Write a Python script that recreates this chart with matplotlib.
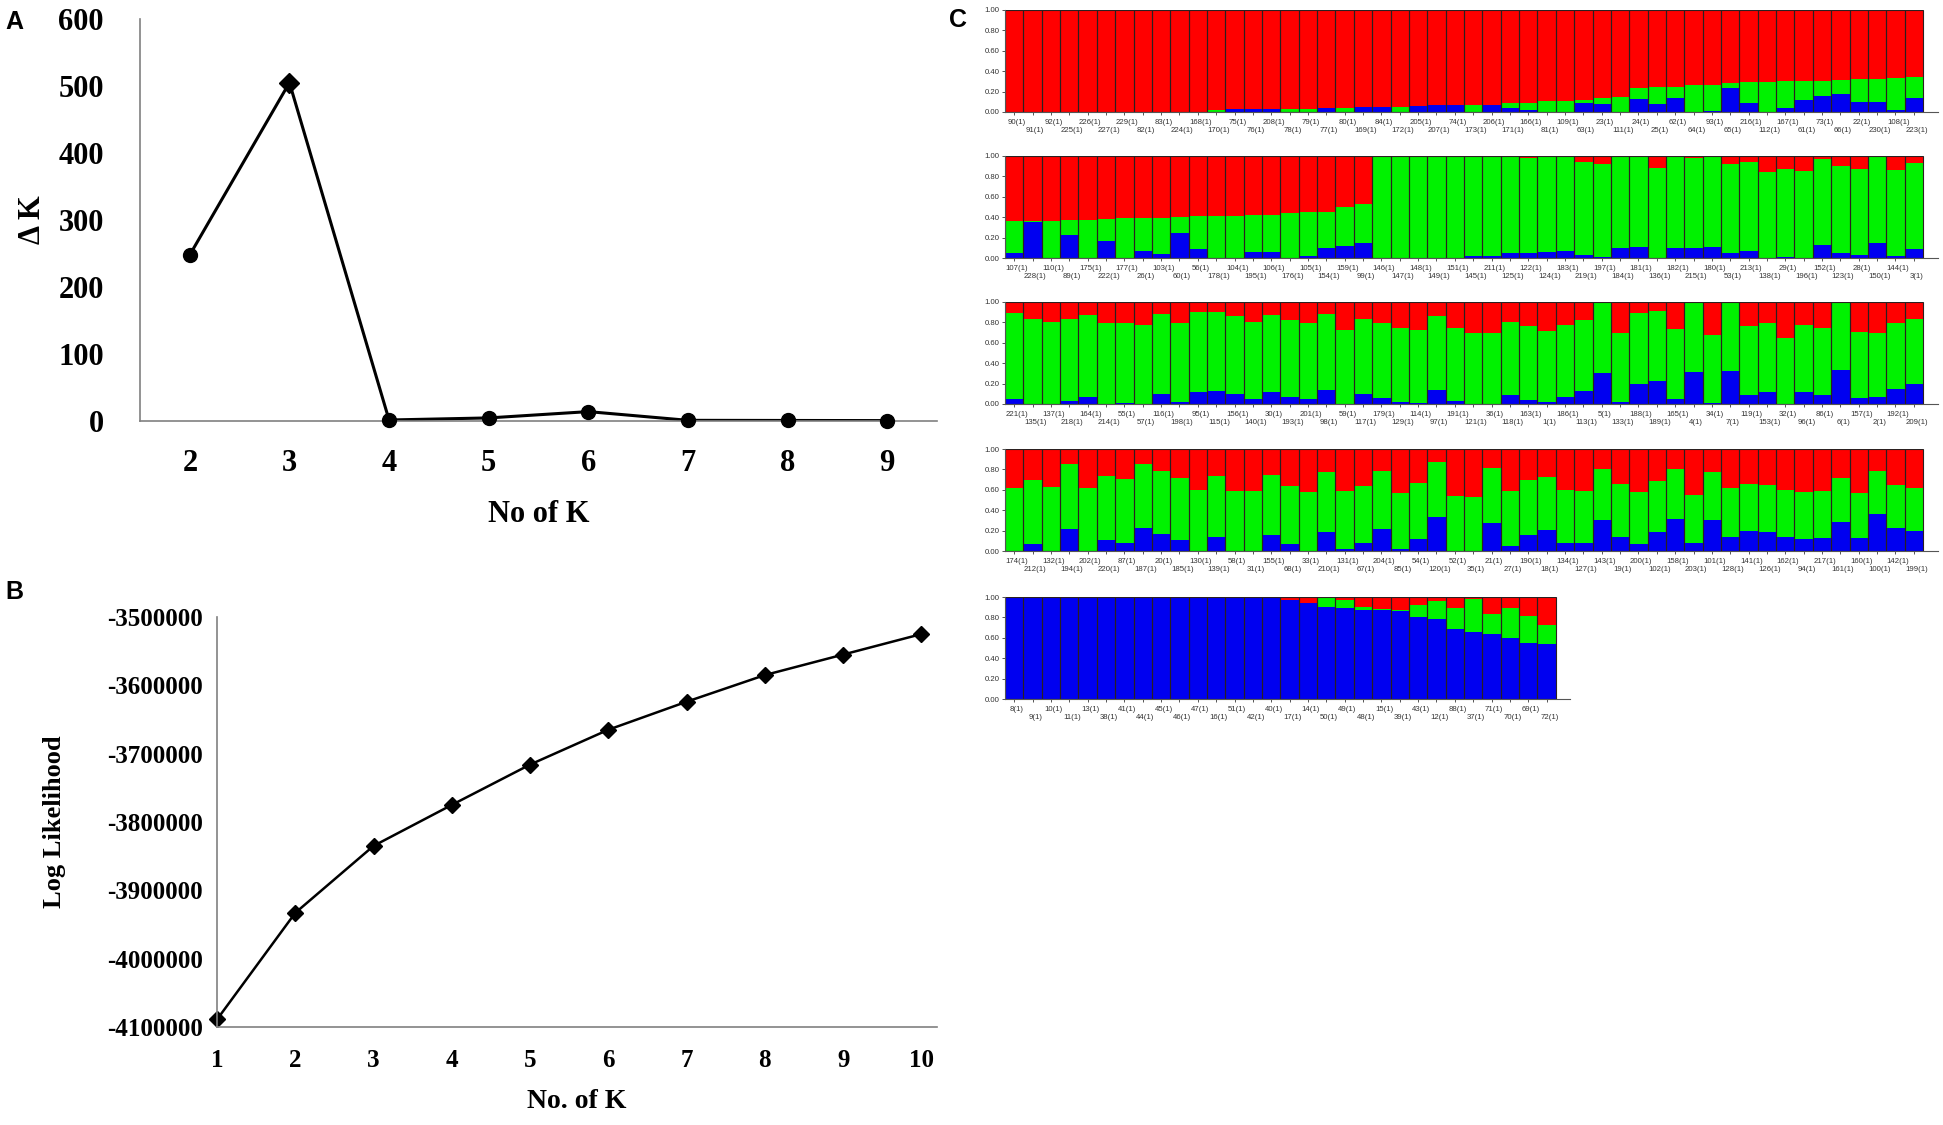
import numpy as np
import matplotlib
matplotlib.use("Agg")
import matplotlib.pyplot as plt
import matplotlib.transforms as mtransforms
from matplotlib.ticker import FuncFormatter

plt.rcParams['axes.unicode_minus'] = False

# ---- panel A: delta K ----
k_a = [2, 3, 4, 5, 6, 7, 8, 9]
delta_k = [248, 505, 1.5, 4.6, 14, 1.0, 0.8, 0.6]

# ---- panel B: log likelihood ----
k_b = [1, 2, 3, 4, 5, 6, 7, 8, 9, 10]
log_lik = [-4089000, -3933000, -3835000, -3775000, -3716000,
           -3665000, -3624000, -3585000, -3555000, -3525000]

# ---- panel C: structure bar plots (blue = bottom, green = middle, red = rest) ----
row1_ids = [90, 91, 92, 225, 226, 227, 229, 82, 83, 224, 168, 170, 75, 76, 208, 78, 79, 77, 80, 169,
            84, 172, 205, 207, 74, 173, 206, 171, 166, 81, 109, 63, 23, 111, 24, 25, 62, 64, 93, 65,
            216, 112, 167, 61, 73, 66, 22, 230, 108, 223]
row1_blue = [0, 0, 0, 0, 0, 0, 0, 0, 0, 0, 0, 0, 0.025, 0.03, 0.03, 0, 0, 0.04, 0, 0.05,
             0.05, 0, 0.055, 0.065, 0.065, 0, 0.07, 0.04, 0.02, 0, 0, 0.085, 0.08, 0, 0.13, 0.08, 0.14, 0, 0.01, 0.24,
             0.09, 0, 0.04, 0.12, 0.16, 0.18, 0.10, 0.10, 0.02, 0.14]
row1_green = [0, 0, 0, 0, 0, 0, 0, 0, 0, 0, 0, 0.015, 0, 0, 0, 0.03, 0.03, 0, 0.04, 0,
              0, 0.05, 0, 0, 0, 0.07, 0, 0.05, 0.07, 0.105, 0.11, 0.035, 0.06, 0.15, 0.11, 0.17, 0.11, 0.26, 0.25, 0.04,
              0.20, 0.29, 0.26, 0.18, 0.14, 0.13, 0.22, 0.22, 0.31, 0.20]

row2_ids = [107, 228, 110, 89, 175, 222, 177, 26, 103, 60, 56, 178, 104, 195, 106, 176, 105, 154, 159, 99,
            146, 147, 148, 149, 151, 145, 211, 125, 122, 124, 183, 219, 197, 184, 181, 136, 182, 215, 180, 53,
            213, 138, 29, 196, 152, 123, 28, 150, 144, 3]
row2_blue = [0.05, 0.35, 0, 0.23, 0, 0.17, 0, 0.07, 0.04, 0.25, 0.09, 0, 0, 0.06, 0.06, 0, 0.02, 0.10, 0.12, 0.15,
             0, 0, 0, 0, 0, 0.02, 0.02, 0.05, 0.05, 0.06, 0.07, 0.03, 0.01, 0.10, 0.11, 0, 0.10, 0.10, 0.11, 0.05,
             0.07, 0, 0.01, 0, 0.13, 0.05, 0.03, 0.15, 0.02, 0.09]
row2_green = [0.31, 0.01, 0.36, 0.14, 0.37, 0.21, 0.39, 0.32, 0.35, 0.15, 0.32, 0.41, 0.41, 0.36, 0.36, 0.44, 0.43, 0.35, 0.38, 0.38,
              1.0, 0.99, 1.0, 1.0, 1.0, 0.98, 0.97, 0.94, 0.93, 0.93, 0.92, 0.91, 0.91, 0.90, 0.88, 0.88, 0.89, 0.88, 0.88, 0.87,
              0.87, 0.84, 0.86, 0.85, 0.84, 0.85, 0.84, 0.84, 0.84, 0.84]

row3_ids = [221, 135, 137, 218, 164, 214, 55, 57, 116, 198, 95, 115, 156, 140, 30, 193, 201, 98, 59, 117,
            179, 129, 114, 97, 191, 121, 36, 118, 163, 1, 186, 113, 5, 133, 188, 189, 165, 4, 34, 7,
            119, 153, 32, 96, 86, 6, 157, 2, 192, 209]
row3_blue = [0.05, 0, 0, 0.03, 0.07, 0, 0.01, 0, 0.10, 0.02, 0.12, 0.13, 0.10, 0.05, 0.12, 0.07, 0.05, 0.14, 0, 0.10,
             0.06, 0.02, 0.01, 0.14, 0.03, 0, 0, 0.09, 0.04, 0.02, 0.07, 0.13, 0.30, 0.02, 0.20, 0.23, 0.05, 0.31, 0.01, 0.32,
             0.09, 0.12, 0, 0.12, 0.09, 0.33, 0.06, 0.07, 0.15, 0.20]
row3_green = [0.84, 0.83, 0.80, 0.80, 0.80, 0.79, 0.78, 0.77, 0.78, 0.77, 0.78, 0.77, 0.76, 0.75, 0.75, 0.75, 0.74, 0.74, 0.73, 0.73,
              0.73, 0.73, 0.72, 0.72, 0.72, 0.70, 0.70, 0.71, 0.72, 0.70, 0.70, 0.69, 0.70, 0.68, 0.69, 0.68, 0.69, 0.69, 0.67, 0.68,
              0.67, 0.67, 0.65, 0.65, 0.66, 0.66, 0.65, 0.63, 0.64, 0.63]

row4_ids = [174, 212, 132, 194, 202, 220, 87, 187, 20, 185, 130, 139, 58, 31, 155, 68, 33, 210, 131, 67,
            204, 85, 54, 120, 52, 35, 21, 27, 190, 18, 134, 127, 143, 19, 200, 102, 158, 203, 101, 128,
            141, 126, 162, 94, 217, 161, 160, 100, 142, 199]
row4_blue = [0, 0.07, 0, 0.22, 0, 0.11, 0.08, 0.23, 0.17, 0.11, 0, 0.14, 0, 0, 0.16, 0.07, 0, 0.19, 0.02, 0.08,
             0.22, 0.02, 0.12, 0.33, 0, 0, 0.27, 0.05, 0.16, 0.21, 0.08, 0.08, 0.30, 0.14, 0.07, 0.19, 0.31, 0.08, 0.30, 0.14,
             0.20, 0.19, 0.14, 0.12, 0.13, 0.28, 0.13, 0.36, 0.23, 0.20]
row4_green = [0.62, 0.63, 0.63, 0.63, 0.62, 0.63, 0.63, 0.62, 0.61, 0.61, 0.60, 0.60, 0.59, 0.59, 0.59, 0.57, 0.58, 0.58, 0.57, 0.56,
              0.56, 0.55, 0.55, 0.54, 0.54, 0.53, 0.54, 0.54, 0.54, 0.52, 0.52, 0.51, 0.50, 0.52, 0.51, 0.50, 0.49, 0.47, 0.47, 0.48,
              0.46, 0.46, 0.46, 0.46, 0.46, 0.44, 0.44, 0.42, 0.42, 0.42]

row5_ids = [8, 9, 10, 11, 13, 38, 41, 44, 45, 46, 47, 16, 51, 42, 40, 17, 14, 50, 49, 48,
            15, 39, 43, 12, 88, 37, 71, 70, 69, 72]
row5_blue = [1, 1, 1, 1, 1, 1, 1, 1, 1, 1, 1, 1, 1, 0.995, 0.99, 0.97, 0.94, 0.90, 0.89, 0.87,
             0.87, 0.86, 0.80, 0.78, 0.69, 0.66, 0.64, 0.60, 0.55, 0.54]
row5_green = [0, 0, 0, 0, 0, 0, 0, 0, 0, 0, 0, 0, 0, 0, 0, 0, 0, 0.09, 0.08, 0.03,
              0.01, 0.01, 0.12, 0.18, 0.20, 0.32, 0.19, 0.29, 0.26, 0.19]

structure_rows = [
    (row1_ids, row1_blue, row1_green),
    (row2_ids, row2_blue, row2_green),
    (row3_ids, row3_blue, row3_green),
    (row4_ids, row4_blue, row4_green),
    (row5_ids, row5_blue, row5_green),
]

W, H = 1943, 1125
fig = plt.figure(figsize=(W / 100, H / 100), dpi=100)

serif = 'Liberation Serif'
sans = 'Liberation Sans'
axis_grey = '#808080'


def fx(px):
    return px / W


def fy(py):
    return 1 - py / H


# ---------------- panel A ----------------
axA = fig.add_axes([fx(140), fy(421), fx(937 - 140), (421 - 19) / H])
axA.plot(k_a, delta_k, color='black', lw=2.2, zorder=2)
peak = int(np.argmax(delta_k))
others = [i for i in range(len(k_a)) if i != peak]
axA.plot([k_a[i] for i in others], [delta_k[i] for i in others], 'o', color='black', ms=10,
         clip_on=False, zorder=3)
axA.plot([k_a[peak]], [delta_k[peak]], 'D', color='black', ms=10, clip_on=False, zorder=3)
axA.set_xlim(1.5, 9.5)
axA.set_ylim(0, 600)
axA.set_xticks(k_a)
axA.set_yticks(range(0, 601, 100))
for s in ['top', 'right']:
    axA.spines[s].set_visible(False)
for s in ['left', 'bottom']:
    axA.spines[s].set_color(axis_grey)
    axA.spines[s].set_linewidth(1.2)
axA.tick_params(length=0, labelsize=22)
axA.tick_params(axis='x', pad=20)
axA.tick_params(axis='y', pad=26)
for lab in axA.get_xticklabels() + axA.get_yticklabels():
    lab.set_fontfamily(serif)
    lab.set_fontweight('bold')
axA.set_xlabel('No of K', fontfamily=serif, fontweight='bold', fontsize=22, labelpad=16)
axA.set_ylabel('\u0394 K', fontfamily=serif, fontweight='bold', fontsize=22, labelpad=8)

# ---------------- panel B ----------------
axB = fig.add_axes([fx(217), fy(1027), fx(937 - 217), (1027 - 617) / H])
axB.plot(k_b, log_lik, color='black', lw=1.8, marker='D', ms=8, clip_on=False)
axB.set_xlim(1, 10.2)
axB.set_ylim(-4100000, -3500000)
axB.set_xticks(k_b)
axB.set_yticks(range(-4100000, -3499999, 100000))
axB.yaxis.set_major_formatter(FuncFormatter(lambda v, p: '%d' % round(v)))
for s in ['top', 'right']:
    axB.spines[s].set_visible(False)
for s in ['left', 'bottom']:
    axB.spines[s].set_color(axis_grey)
    axB.spines[s].set_linewidth(1.2)
axB.tick_params(length=0, labelsize=18)
axB.tick_params(axis='x', pad=16)
axB.tick_params(axis='y', pad=10)
for lab in axB.get_xticklabels() + axB.get_yticklabels():
    lab.set_fontfamily(serif)
    lab.set_fontweight('bold')
axB.set_xlabel('No. of K', fontfamily=serif, fontweight='bold', fontsize=20, labelpad=12)
axB.set_ylabel('Log Likelihood', fontfamily=serif, fontweight='bold', fontsize=19, labelpad=30)

# ---------------- panel C ----------------
c_red = '#ff0000'
c_green = '#00f200'
c_blue = '#0000f0'
edge = '#2b2020'
bar_px = 18.36
row_zero_px = [112, 258, 404, 551, 699]
row_h_px = 102

for (ids, blue, green), zero_px in zip(structure_rows, row_zero_px):
    n = len(ids)
    blue = np.array(blue, dtype=float)
    green = np.array(green, dtype=float)
    red = 1 - blue - green
    x = np.arange(n)
    span = n + 0.8
    ax = fig.add_axes([fx(1005), fy(zero_px), fx(span * bar_px), row_h_px / H])
    ax.bar(x, blue, width=1, color=c_blue, lw=0)
    ax.bar(x, green, width=1, bottom=blue, color=c_green, lw=0)
    ax.bar(x, red, width=1, bottom=blue + green, color=c_red, lw=0)
    ax.bar(x, np.ones(n), width=1, fill=False, edgecolor=edge, lw=0.8)
    ax.set_xlim(-0.5, span - 0.5)
    ax.set_ylim(0, 1)
    ax.set_yticks(np.arange(0, 1.01, 0.2))
    ax.set_yticklabels(['%.2f' % v for v in np.arange(0, 1.01, 0.2)])
    ax.set_xticks(x)
    ax.set_xticklabels([])
    for s in ['top', 'right']:
        ax.spines[s].set_visible(False)
    for s in ['left', 'bottom']:
        ax.spines[s].set_color('#555555')
        ax.spines[s].set_linewidth(0.8)
    ax.tick_params(axis='both', length=2.5, width=0.7, color='#555555', labelsize=5.6,
                   labelcolor='#333333', pad=1.5)
    for lab in ax.get_yticklabels():
        lab.set_fontfamily(sans)
    trans = mtransforms.blended_transform_factory(ax.transData, ax.transAxes)
    for i, ident in enumerate(ids):
        ypos = -0.10 if i % 2 == 0 else -0.18
        ax.text(i + 0.15, ypos, '%d(1)' % ident, transform=trans, ha='center', va='center',
                fontsize=5.6, color='#333333', fontfamily=sans)

# panel letters
for letter, (px, py) in {'A': (14, 22), 'B': (14, 592), 'C': (958, 20)}.items():
    fig.text(fx(px), fy(py), letter, fontsize=18, fontweight='bold', fontfamily=sans,
             ha='center', va='center')

fig.savefig('out.png', dpi=100)
